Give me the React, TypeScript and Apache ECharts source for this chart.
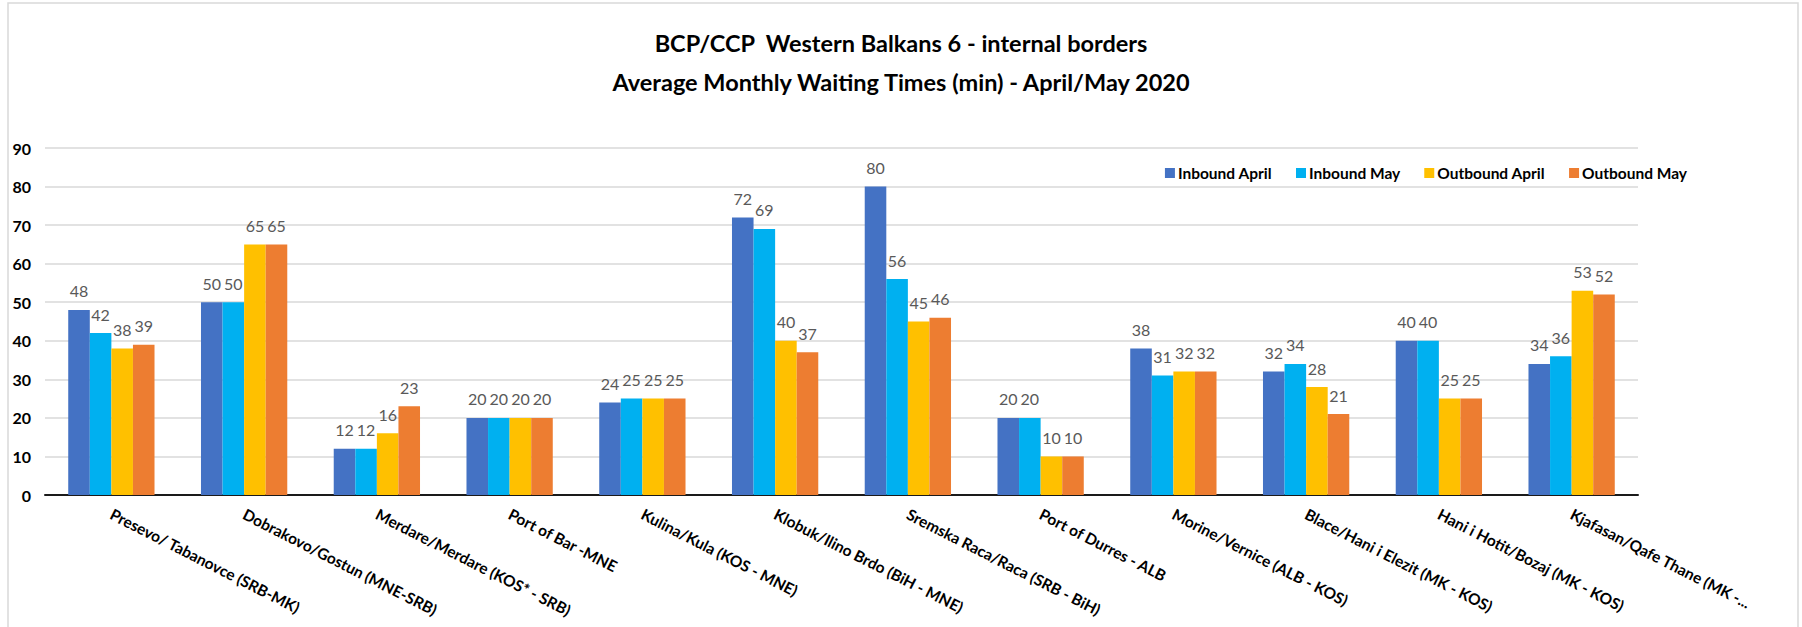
import React, { useEffect, useRef } from "react";
import * as echarts from "echarts";

const categories = [
  "Presevo/ Tabanovce (SRB-MK)",
  "Dobrakovo/Gostun (MNE-SRB)",
  "Merdare/Merdare (KOS* - SRB)",
  "Port of Bar -MNE",
  "Kulina/Kula (KOS - MNE)",
  "Klobuk/Ilino Brdo (BiH - MNE)",
  "Sremska Raca/Raca (SRB - BiH)",
  "Port of Durres - ALB",
  "Morine/Vernice (ALB - KOS)",
  "Blace/Hani i Elezit (MK - KOS)",
  "Hani i Hotit/Bozaj (MK - KOS)",
  "Kjafasan/Qafe Thane (MK -...",
];

const inboundApril = [48, 50, 12, 20, 24, 72, 80, 20, 38, 32, 40, 34];
const inboundMay = [42, 50, 12, 20, 25, 69, 56, 20, 31, 34, 40, 36];
const outboundApril = [38, 65, 16, 20, 25, 40, 45, 10, 32, 28, 25, 53];
const outboundMay = [39, 65, 23, 20, 25, 37, 46, 10, 32, 21, 25, 52];

const seriesNames = ["Inbound April", "Inbound May", "Outbound April", "Outbound May"];
const seriesColors = ["#4472C4", "#00B0F0", "#FFC000", "#ED7D31"];
const seriesData = [inboundApril, inboundMay, outboundApril, outboundMay];

const titleText = "BCP/CCP  Western Balkans 6 - internal borders\nAverage Monthly Waiting Times (min) - April/May 2020";

const FONT = "Lato, 'Liberation Sans', sans-serif";

export default function App() {
  const ref = useRef<HTMLDivElement>(null);
  useEffect(() => {
    if (!ref.current) return;
    const chart = echarts.init(ref.current, null, { renderer: "svg" });
    chart.setOption({
      animation: false,
      backgroundColor: "#ffffff",
      graphic: [
        {
          type: "rect",
          shape: { x: 8, y: 3, width: 1790, height: 700 },
          style: { fill: "none", stroke: "#D9D9D9", lineWidth: 1.5 },
          silent: true,
        },
      ],
      title: {
        text: titleText,
        left: "center",
        top: 18,
        textStyle: {
          fontFamily: FONT,
          fontWeight: "bold",
          fontSize: 23.5,
          lineHeight: 39,
          color: "#000000",
        },
      },
      legend: {
        right: 110,
        top: 160,
        itemWidth: 10,
        itemHeight: 10,
        itemGap: 24,
        icon: "rect",
        textStyle: {
          fontFamily: FONT,
          fontWeight: "bold",
          fontSize: 15.5,
          color: "#000000",
          padding: [0, 0, 0, -2],
        },
        data: seriesNames,
      },
      grid: { left: 45, right: 164, top: 148, bottom: 132, containLabel: false },
      xAxis: {
        type: "category",
        data: categories,
        axisLine: { show: true, lineStyle: { color: "#1a1a1a", width: 2 } },
        axisTick: { show: false },
        axisLabel: {
          interval: 0,
          rotate: -27,
          margin: 18,
          fontFamily: FONT,
          fontWeight: "bold",
          fontSize: 15.5,
          color: "#000000",
        },
      },
      yAxis: {
        type: "value",
        min: 0,
        max: 90,
        interval: 10,
        axisLine: { show: false },
        axisTick: { show: false },
        splitLine: { lineStyle: { color: "#D9D9D9", width: 1.5 } },
        axisLabel: {
          margin: 14,
          fontFamily: FONT,
          fontWeight: "bold",
          fontSize: 16,
          color: "#000000",
        },
      },
      series: seriesNames.map((name, i) => ({
        name,
        type: "bar",
        data: seriesData[i],
        barGap: "0%",
        barCategoryGap: "35%",
        itemStyle: { color: seriesColors[i] },
        label: {
          show: true,
          position: "top",
          distance: 11,
          fontFamily: FONT,
          fontSize: 16,
          color: "#595959",
        },
      })),
    });
    return () => chart.dispose();
  }, []);
  return (
    <div
      ref={ref}
      style={{ position: "fixed", left: 0, top: 0, width: 1802, height: 627 }}
    />
  );
}
